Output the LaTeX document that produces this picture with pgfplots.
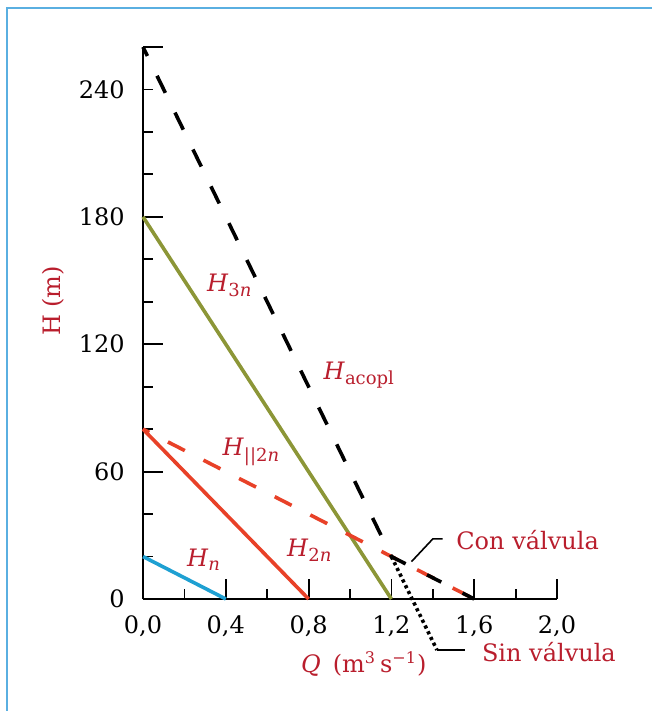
\documentclass[12pt,border=0pt]{standalone}
\usepackage{fontspec}
\setmainfont{DejaVu Serif}
\usepackage{pgfplots}
\pgfplotsset{compat=1.18}
\definecolor{labred}{RGB}{185,30,45}
\definecolor{lineblue}{RGB}{30,160,210}
\definecolor{linered}{RGB}{232,65,40}
\definecolor{lineolive}{RGB}{140,150,55}
\definecolor{framecol}{RGB}{90,175,225}
\newcommand\sub[1]{\textsubscript{\fontsize{9}{10}\selectfont #1}}
\begin{document}
\begin{tikzpicture}
\useasboundingbox (-71.5pt,-56pt) rectangle (254.5pt,299.5pt);
\draw[framecol, line width=0.75pt] (-68pt,-60pt) -- (-68pt,295.5pt) -- (260pt,295.5pt);
\begin{axis}[at={(0pt,0pt)}, anchor=south west, scale only axis,
  width=207pt, height=276pt,
  xmin=0, xmax=2, ymin=0, ymax=260,
  axis lines=left, axis line style={-, line width=0.9pt},
  clip=false, no markers,
  tick align=inside, major tick length=10pt, minor tick length=5pt,
  every tick/.style={line width=0.9pt, black},
  xtick={0,0.4,0.8,1.2,1.6,2.0},
  xticklabels={{0,0},{0,4},{0,8},{1,2},{1,6},{2,0}},
  minor xtick={0.2,0.6,1.0,1.4,1.8},
  ytick={0,60,120,180,260},
  yticklabels={0,60,120,180,{}},
  extra y ticks={240}, extra y tick labels={240},
  extra y tick style={major tick length=5pt},
  minor ytick={20,40,80,100,140,160,200,220},
  /pgf/number format/assume math mode=true,
  tick label style={font=\normalsize},
  yticklabel style={xshift=-5pt},
  xticklabel style={yshift=-4pt},
]
\addplot[lineblue, line width=1.8pt] coordinates {(0,20) (0.4,0)};
\addplot[linered, line width=1.8pt] coordinates {(0,80) (0.8,0)};
\addplot[lineolive, line width=1.8pt] coordinates {(0,180) (1.2,0)};
\addplot[linered, line width=1.8pt, dash pattern=on 9.5pt off 10.5pt, dash phase=6pt] coordinates {(0,80) (1.6,0)};
\addplot[black, line width=1.8pt, dash pattern=on 9.5pt off 11pt, dash phase=4.5pt] coordinates {(0,260) (1.2,20)};
\addplot[black, line width=1.8pt, dash pattern=on 8pt off 12pt] coordinates {(1.2,20) (1.6,0)};
\addplot[black, line width=1.8pt, dash pattern=on 1.6pt off 1.6pt] coordinates {(1.2,20) (1.42,-24)};
\addplot[black, line width=0.8pt] coordinates {(1.42,-24) (1.555,-24)};
\addplot[black, line width=0.8pt] coordinates {(1.297,17.6) (1.40,28.3) (1.447,28.3)};
\node[anchor=base west, text=labred, inner sep=0pt] at (axis cs:0.308,144.7) {\textit{H}\sub{3\textit{n}}};
\node[anchor=base west, text=labred, inner sep=0pt] at (axis cs:0.871,103.4) {\textit{H}\sub{acopl}};
\node[anchor=base west, text=labred, inner sep=0pt] at (axis cs:0.383,67.4) {\textit{H}\sub{||2\textit{n}}};
\node[anchor=base west, text=labred, inner sep=0pt] at (axis cs:0.694,20.25) {\textit{H}\sub{2\textit{n}}};
\node[anchor=base west, text=labred, inner sep=0pt] at (axis cs:0.211,15.2) {\textit{H}\sub{\textit{n}}};
\node[anchor=base west, text=labred, inner sep=0pt] at (axis cs:1.512,23.1) {Con válvula};
\node[anchor=base west, text=labred, inner sep=0pt] at (axis cs:1.636,-29.5) {Sin válvula};
\node[anchor=base west, text=labred, inner sep=0pt] at (axis cs:0.762,-34.4) {\textit{Q}\hspace{6pt}(m\textsuperscript{3}\,s\textsuperscript{−1})};
\node[anchor=base, rotate=90, text=labred, inner sep=0pt] at (axis cs:-0.398,140.4) {H (m)};
\end{axis}
\end{tikzpicture}
\end{document}
